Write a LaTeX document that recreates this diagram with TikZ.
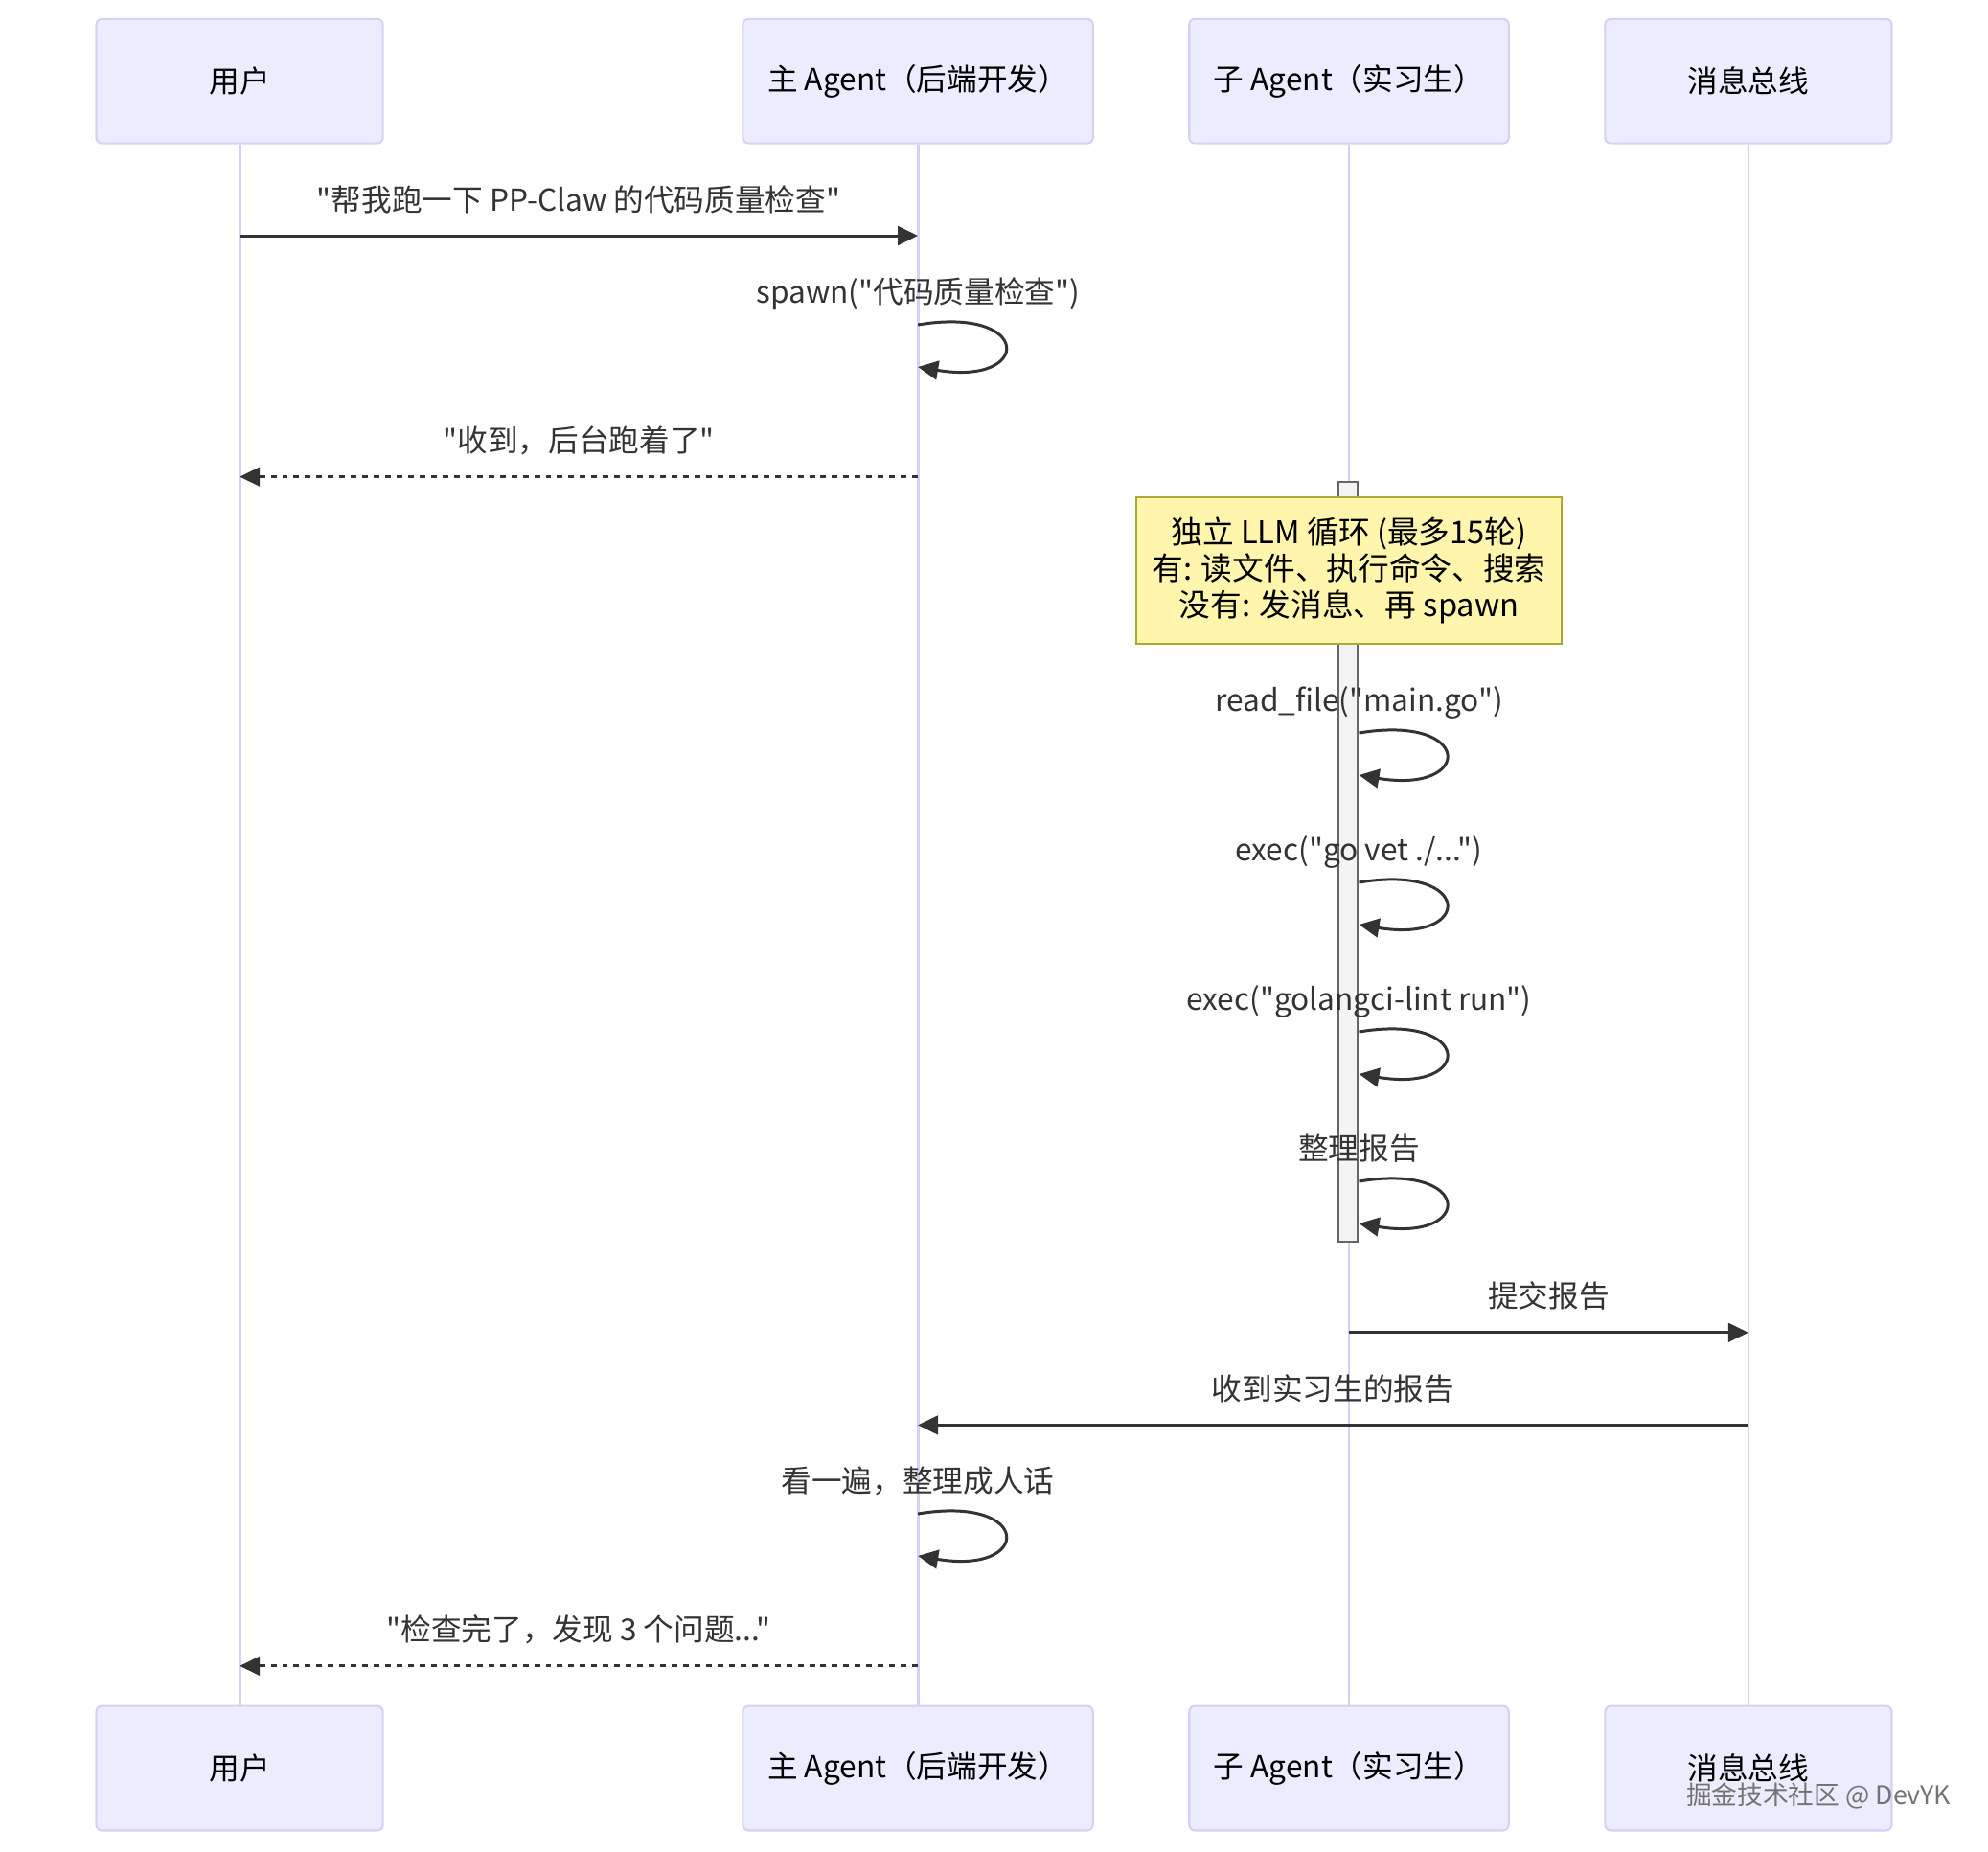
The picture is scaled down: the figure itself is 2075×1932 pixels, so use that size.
\documentclass[tikz,border=0pt]{standalone}
\usepackage{fontspec}
\setmainfont{Noto Sans CJK SC}[Ligatures=TeXOff]
\usepackage{xcolor}
\usetikzlibrary{arrows.meta, positioning}
\definecolor{actorfill}{RGB}{236, 236, 255}
\definecolor{actorline}{RGB}{216, 208, 244}
\definecolor{msgdark}{RGB}{51, 51, 51}
\definecolor{notefill}{RGB}{255, 245, 173}
\definecolor{noteline}{RGB}{170, 170, 51}
\definecolor{actfill}{RGB}{244, 244, 244}
\definecolor{actline}{RGB}{102, 102, 102}
\newcommand{\lblfont}{\fontsize{9}{11}\selectfont}
\tikzset{
  actorbox/.style={rectangle, rounded corners=1.7pt, draw=actorline,
              fill=actorfill, line width=0.6pt, minimum width=#1,
              minimum height=1.297cm, font=\lblfont, text=black, inner sep=0pt},
  actorbox/.default=2.99cm,
  lifeline/.style={draw=actorline, line width=0.8pt},
  msgarrow/.style={-{Triangle[length=6pt, width=5.6pt]}, line width=0.85pt, color=msgdark},
  replyarrow/.style={msgarrow, dash pattern=on 1.7pt off 1.7pt},
  msglabel/.style={font=\lblfont, text=msgdark, anchor=base, inner sep=0pt},
  notebox/.style={rectangle, draw=noteline, fill=notefill, line width=0.6pt,
              minimum width=4.43cm, minimum height=1.535cm, align=center,
              font=\fontsize{9.3}{10.9}\selectfont, text=black},
  actbar/.style={rectangle, draw=actline, fill=actfill, line width=0.6pt,
              minimum width=0.2cm, inner sep=0pt},
}

\begin{document}
\begin{tikzpicture}[x=0.01cm, y=-0.01cm]
  \useasboundingbox (0,0) rectangle (2075,1932);

  % actors
  \node[actorbox] (user) at (250.1,84.7) {用户};
  \node[actorbox=3.652cm] (main) at (958.1,84.7) {主 Agent（后端开发）};
  \node[actorbox=3.334cm] (sub) at (1408,84.7) {子 Agent（实习生）};
  \node[actorbox] (bus) at (1824.9,84.7) {消息总线};

  \node[actorbox, below=16.28cm of user] (userB) {用户};
  \node[actorbox=3.652cm, below=16.28cm of main] (mainB) {主 Agent（后端开发）};
  \node[actorbox=3.334cm, below=16.28cm of sub] (subB) {子 Agent（实习生）};
  \node[actorbox, below=16.28cm of bus] (busB) {消息总线};

  \draw[lifeline] (user.south) -- (userB.north);
  \draw[lifeline] (main.south) -- (mainB.north);
  \draw[lifeline] (sub.south) -- (subB.north);
  \draw[lifeline] (bus.south) -- (busB.north);

  % user asks, main spawns the intern
  \draw[msgarrow] (user |- 0,246) -- node[msglabel, yshift=0.26cm]
       {"帮我跑一下 PP-Claw 的代码质量检查"} (main |- 0,246);

  \node[msglabel] (spawnlbl) at (main |- 0,316) {spawn("代码质量检查")};
  \draw[msgarrow] (main |- 0,339) .. controls +(120,-20) and +(120,20) .. (main |- 0,383);

  \draw[replyarrow] (main |- 0,497.6) -- node[msglabel, yshift=0.26cm]
       {"收到，后台跑着了"} (user |- 0,497.6);

  % intern works on its own
  \node[actbar, minimum height=7.926cm] (act) at (1407.4,899.2) {};
  \node[notebox] (note) at (sub |- 0,595.5)
       {独立 LLM 循环 (最多15轮)\\有: 读文件、执行命令、搜索\\没有: 发消息、再 spawn};

  \foreach \yy/\txt in {765/{read\_file("main.go")}, 921/{exec("go vet ./...")},
                        1077/{exec("golangci-lint run")}, 1233/{整理报告}} {
    \pgfmathsetmacro\yend{\yy+44}
    \pgfmathsetmacro\ylab{\yy-23}
    \node[msglabel] at (act.east |- 0,\ylab) {\txt};
    \draw[msgarrow] (act.east |- 0,\yy) .. controls +(120,-20) and +(120,20) .. (act.east |- 0,\yend);
  }

  % report goes back through the bus
  \draw[msgarrow] (sub |- 0,1390.8) -- node[msglabel, yshift=0.26cm]
       {提交报告} (bus |- 0,1390.8);
  \draw[msgarrow] (bus |- 0,1487.4) -- node[msglabel, yshift=0.26cm]
       {收到实习生的报告} (main |- 0,1487.4);

  \node[msglabel] (tidylbl) at (main |- 0,1557) {看一遍，整理成人话};
  \draw[msgarrow] (main |- 0,1580) .. controls +(120,-20) and +(120,20) .. (main |- 0,1624);

  \draw[replyarrow] (main |- 0,1738.8) -- node[msglabel, yshift=0.26cm]
       {"检查完了，发现 3 个问题..."} (user |- 0,1738.8);

  \node[font=\fontsize{7.6}{9}\selectfont, text=black!55] (mark) at (1898,1874)
       {掘金技术社区 @ DevYK};
\end{tikzpicture}
\end{document}
